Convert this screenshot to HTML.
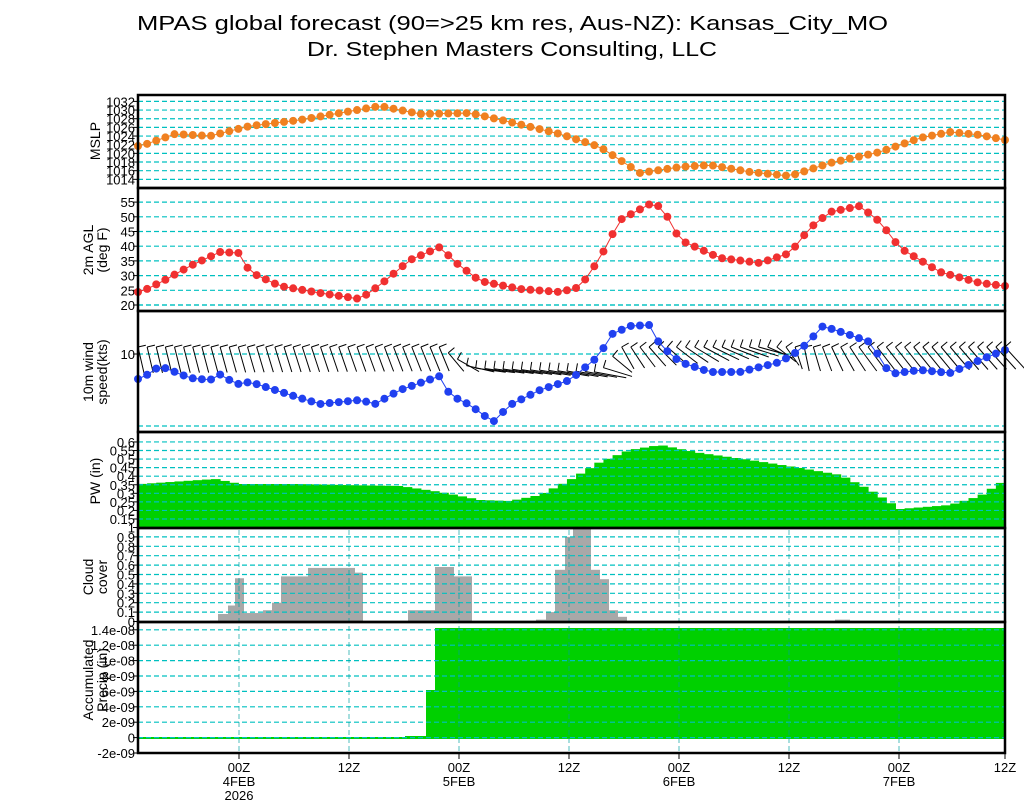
<!DOCTYPE html>
<html><head><meta charset="utf-8"><style>
html,body{margin:0;padding:0;background:#fff;}
svg{display:block;font-family:"Liberation Sans",sans-serif;}
</style></head><body>
<svg id="s" width="1024" height="800" xmlns="http://www.w3.org/2000/svg">
<text x="137" y="30" font-size="20" textLength="751" lengthAdjust="spacingAndGlyphs">MPAS global forecast (90=&gt;25 km res, Aus-NZ): Kansas_City_MO</text>
<text x="307" y="56" font-size="20" textLength="410" lengthAdjust="spacingAndGlyphs">Dr. Stephen Masters Consulting, LLC</text>
</svg>
<script>
var s=document.getElementById('s'),NS='http://www.w3.org/2000/svg';
function el(t,a,txt){var e=document.createElementNS(NS,t);for(var k in a)e.setAttribute(k,a[k]);if(txt!==undefined)e.textContent=txt;s.appendChild(e);return e;}
var X0=138,X1=1005,N=95,dx=(X1-X0)/N;
function xi(i){return X0+i*dx;}
function interp(pts,x){if(x<=pts[0][0])return pts[0][1];for(var i=1;i<pts.length;i++){if(x<=pts[i][0]){var a=pts[i-1],b=pts[i];return a[1]+(b[1]-a[1])*(x-a[0])/(b[0]-a[0]);}}return pts[pts.length-1][1];}
function grid(y){el('line',{x1:X0,x2:X1,y1:y,y2:y,stroke:'#00c0c0','stroke-width':1.2,'stroke-dasharray':'5,3'});}
function tick(y,t){el('text',{x:135,y:y+5,'font-size':13,'text-anchor':'end'},t);el('line',{x1:133,x2:138,y1:y,y2:y,stroke:'#000'});}
function ylab(lines,cy){var x=100-(lines.length-1)*7;lines.forEach(function(l,k){el('text',{x:0,y:0,'font-size':14,'text-anchor':'middle',transform:'translate('+(x+k*14)+','+cy+') rotate(-90)'},l);});}
function series(pts,col){var d='';var P=[];for(var i=0;i<=N;i++){var x=xi(i),y=interp(pts,x);P.push([x,y]);d+=(i?'L':'M')+x.toFixed(1)+','+y.toFixed(1);}
el('path',{d:d,fill:'none',stroke:col,'stroke-width':1});P.forEach(function(p){el('circle',{cx:p[0],cy:p[1],r:4,fill:col});});}
// MSLP
for(var v=1014;v<=1032;v+=2){var y=188-(v-1012)*4.33;grid(y);tick(y,v);}
series([[141,146],[175,134],[210,136],[250,126],[300,120],[340,113],[380,106],[420,114],[470,113],[510,122],[560,134],[600,147],[640,173],[680,167],[710,165],[750,172],[790,176],[830,163],[880,152],[920,138],[950,132],[980,135],[1005,140]],'#f08020');
ylab(['MSLP'],141);
// Temp
for(var v=20;v<=55;v+=5){var y=305-(v-20)*2.94;grid(y);tick(y,v);}
series([[141,292],[165,280],[190,266],[220,252],[239,253],[250,272],[280,286],[320,293],[360,299],[380,285],[410,260],[440,247],[455,262],[480,281],[520,289],[560,292],[580,287],[600,258],[620,220],[650,204],[662,207],[680,240],[720,258],[760,263],[790,253],[810,228],[830,212],[860,206],[880,222],[900,248],[940,272],[980,283],[1005,286]],'#f03030');
ylab(['2m  AGL','(deg  F)'],250);
// Wind
grid(305);grid(354);grid(426);tick(354,10);
var vx=[[138,6],[300,8],[440,10],[470,30],[600,32],[620,12],[700,25],[760,30],[800,4],[860,18],[1005,20]];
var vy=[[138,26],[440,24],[470,4],[600,6],[620,22],[700,14],[760,8],[800,24],[860,24],[1005,22]];
var oy=[[138,347],[440,347],[470,368],[600,372],[620,347],[1005,347]];
for(var i=0;i<=N;i++){var x=xi(i),ux=interp(vx,x),uy=interp(vy,x),y0=interp(oy,x);
el('line',{x1:x,y1:y0,x2:x+ux,y2:y0+uy,stroke:'#000','stroke-width':1});
var L=Math.sqrt(ux*ux+uy*uy),nx=-uy/L*8,ny=ux/L*8;
el('line',{x1:x,y1:y0,x2:x+nx*(nx<0?-1:1),y2:y0+ny*(nx<0?-1:1),stroke:'#000','stroke-width':1});}
series([[141,379],[160,366],[190,378],[210,380],[225,372],[232,385],[250,382],[300,398],[320,404],[360,400],[375,404],[400,390],[440,376],[450,395],[470,405],[493,422],[510,405],[540,390],[570,380],[600,355],[610,335],[630,326],[650,325],[660,345],[680,362],[710,372],[740,372],[780,362],[800,350],[810,340],[823,326],[850,335],[870,342],[890,374],[920,370],[950,373],[980,360],[1005,350]],'#2040f0');
ylab(['10m  wind','speed(kts)'],372);
// PW
var pw=[[141,484],[200,480],[215,479],[240,484],[300,484],[340,485],[400,486],[440,492],[480,500],[510,501],[540,495],[570,480],[600,462],[630,450],[660,445],[700,453],[750,460],[800,468],[840,475],[870,490],[900,509],[950,505],[980,496],[1005,480]];
for(var i=0;i<N;i++){var x=xi(i),y=interp(pw,x+dx/2);el('rect',{x:x,y:y,width:dx+0.5,height:528-y,fill:'#00d000'});}
for(var v=0.15;v<=0.601;v+=0.05){var y=519-(v-0.15)/0.05*8.56;grid(y);tick(y,(Math.round(v*100)/100).toString());}
ylab(['PW  (in)'],481);
// Cloud
var cl=[[210,218,0.01],[218,228,0.08],[228,235,0.17],[235,244,0.46],[244,263,0.09],[263,272,0.12],[272,281,0.2],[281,308,0.48],[308,355,0.57],[355,363,0.52],[408,435,0.12],[435,454,0.58],[454,472,0.48],[536,546,0.02],[546,555,0.1],[555,565,0.55],[565,573,0.9],[573,591,1.0],[591,600,0.55],[600,609,0.45],[609,618,0.12],[618,627,0.05],[835,850,0.02]];
cl.forEach(function(c){el('rect',{x:c[0],y:621.5-c[2]*94,width:c[1]-c[0],height:c[2]*94,fill:'#a8a8a8'});});
for(var v=0.1;v<=1.001;v+=0.1){var y=621.5-v*94;grid(y);tick(y,(Math.round(v*10)/10).toString());}tick(621.5,'0');
ylab(['Cloud','cover'],577);
// Precip
el('polygon',{points:'405,738 405,736 426,736 426,690 435,690 435,628 1005,628 1005,738',fill:'#00d000'});
el('line',{x1:X0,x2:X1,y1:738,y2:738,stroke:'#00d000','stroke-width':2});
var pl=['-2e-09','0','2e-09','4e-09','6e-09','8e-09','1e-08','1.2e-08','1.4e-08'];
for(var k=0;k<pl.length;k++){var y=753-k*15.4;grid(y);tick(y,pl[k]);}
ylab(['Accumulated','Precip (in)'],680);
var xs=[239,349,459,569,679,789,899,1005],lb=['00Z','12Z','00Z','12Z','00Z','12Z','00Z','12Z'],dl={0:['4FEB','2026'],2:['5FEB'],4:['6FEB'],6:['7FEB']};
xs.forEach(function(x,k){el('line',{x1:x,x2:x,y1:530,y2:753,stroke:'#00a0a0','stroke-width':1,'stroke-dasharray':'5,3','stroke-opacity':0.7});
el('line',{x1:x,x2:x,y1:753,y2:759,stroke:'#000'});
el('text',{x:x,y:772,'font-size':13,'text-anchor':'middle'},lb[k]);
(dl[k]||[]).forEach(function(t,j){el('text',{x:x,y:786+j*14,'font-size':13,'text-anchor':'middle'},t);});});
[[95,188],[188,311],[311,432],[432,528],[528,622],[622,753]].forEach(function(p){el('rect',{x:X0,y:p[0],width:X1-X0,height:p[1]-p[0],fill:'none',stroke:'#000','stroke-width':2.5});});
</script>
</body></html>
